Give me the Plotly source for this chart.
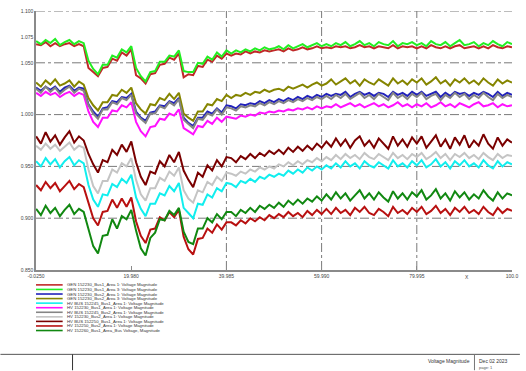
import plotly.graph_objects as go

# ---------------- data ----------------
time_s = list(range(0, 101))  # sample times, seconds

names = [
    "GEN 152230_Bus1_Area 1: Voltage Magnitude",
    "GEN 152230_Bus1_Area 3: Voltage Magnitude",
    "GEN 152230_Bus2_Area 1: Voltage Magnitude",
    "GEN 152230_Bus2_Area 3: Voltage Magnitude",
    "HV BUS 152245_Bus1_Area 1: Voltage Magnitude",
    "HV 152230_Bus1_Area 1: Voltage Magnitude",
    "HV BUS 152245_Bus2_Area 1: Voltage Magnitude",
    "HV 152230_Bus2_Area 1: Voltage Magnitude",
    "HV BUS 152250_Bus1_Area 1: Voltage Magnitude",
    "HV 152250_Bus2_Area 1: Voltage Magnitude",
    "HV 152260_Bus1_Area_Bus Voltage, Magnitude",
]
colors = ["#c02828", "#22ee22", "#2222bb", "#858500", "#11eeee", "#ff11ff",
          "#858585", "#c4c4c4", "#7a0000", "#b81010", "#118811"]

red_gen1 = [1.068, 1.067, 1.070, 1.066, 1.069, 1.066, 1.068, 1.069, 1.066, 1.068, 1.066,
            1.045, 1.041, 1.037, 1.045, 1.046, 1.054, 1.052, 1.060, 1.057, 1.063,
            1.038, 1.035, 1.030, 1.039, 1.040, 1.048, 1.049, 1.055, 1.053, 1.059,
            1.036, 1.039, 1.038, 1.047, 1.046, 1.053, 1.051, 1.057, 1.054, 1.059,
            1.057, 1.059, 1.058, 1.061, 1.059, 1.061, 1.060, 1.062, 1.061, 1.062,
            1.063, 1.061, 1.064, 1.062, 1.063, 1.065, 1.063, 1.064, 1.066, 1.064,
            1.065, 1.064, 1.066, 1.065, 1.066, 1.064, 1.065, 1.067, 1.065, 1.066,
            1.064, 1.066, 1.065, 1.064, 1.067, 1.064, 1.066, 1.065, 1.066, 1.064,
            1.066, 1.064, 1.067, 1.065, 1.064, 1.066, 1.064, 1.066, 1.067, 1.064,
            1.065, 1.066, 1.064, 1.066, 1.064, 1.067, 1.065, 1.064, 1.066, 1.065]
green_gen1 = [1.071, 1.068, 1.072, 1.069, 1.073, 1.067, 1.070, 1.072, 1.068, 1.071, 1.069,
              1.052, 1.044, 1.039, 1.048, 1.048, 1.057, 1.055, 1.063, 1.060, 1.066,
              1.045, 1.037, 1.032, 1.041, 1.042, 1.051, 1.051, 1.057, 1.056, 1.062,
              1.042, 1.041, 1.041, 1.050, 1.049, 1.056, 1.053, 1.060, 1.056, 1.062,
              1.059, 1.062, 1.060, 1.063, 1.061, 1.064, 1.062, 1.065, 1.063, 1.064,
              1.066, 1.063, 1.067, 1.064, 1.066, 1.068, 1.065, 1.067, 1.069, 1.066,
              1.068, 1.066, 1.069, 1.067, 1.070, 1.066, 1.068, 1.071, 1.067, 1.069,
              1.066, 1.070, 1.068, 1.067, 1.071, 1.066, 1.069, 1.068, 1.070, 1.067,
              1.069, 1.066, 1.071, 1.068, 1.067, 1.070, 1.066, 1.069, 1.072, 1.067,
              1.068, 1.070, 1.066, 1.069, 1.067, 1.071, 1.068, 1.066, 1.070, 1.068]
blue_gen2 = [1.026, 1.023, 1.027, 1.024, 1.027, 1.022, 1.026, 1.028, 1.023, 1.026, 1.025,
             1.010, 1.003, 0.998, 1.006, 1.007, 1.013, 1.012, 1.017, 1.016, 1.020,
             1.003, 0.997, 0.994, 1.002, 1.003, 1.009, 1.008, 1.013, 1.011, 1.016,
             0.997, 0.992, 0.989, 0.997, 0.997, 1.003, 1.001, 1.006, 1.002, 1.009,
             1.008, 1.006, 1.010, 1.009, 1.011, 1.010, 1.013, 1.011, 1.014, 1.012,
             1.015, 1.013, 1.016, 1.014, 1.017, 1.015, 1.018, 1.016, 1.019, 1.017,
             1.020, 1.018, 1.020, 1.019, 1.022, 1.017, 1.020, 1.022, 1.019, 1.021,
             1.018, 1.021, 1.020, 1.017, 1.022, 1.019, 1.021, 1.018, 1.022, 1.019,
             1.022, 1.018, 1.020, 1.022, 1.017, 1.021, 1.018, 1.022, 1.020, 1.021,
             1.018, 1.021, 1.019, 1.022, 1.020, 1.017, 1.022, 1.018, 1.021, 1.019]
olive_gen2 = [1.031, 1.027, 1.033, 1.029, 1.034, 1.028, 1.030, 1.033, 1.027, 1.032, 1.029,
              1.016, 1.009, 1.004, 1.012, 1.012, 1.019, 1.018, 1.024, 1.021, 1.026,
              1.011, 1.005, 1.001, 1.010, 1.009, 1.016, 1.014, 1.020, 1.015, 1.021,
              1.001, 0.997, 0.994, 1.003, 1.003, 1.010, 1.009, 1.015, 1.013, 1.019,
              1.016, 1.019, 1.018, 1.021, 1.019, 1.022, 1.021, 1.024, 1.022, 1.024,
              1.025, 1.023, 1.027, 1.025, 1.027, 1.029, 1.026, 1.029, 1.031, 1.028,
              1.030, 1.034, 1.029, 1.032, 1.035, 1.030, 1.033, 1.028, 1.034, 1.031,
              1.029, 1.034, 1.031, 1.028, 1.035, 1.030, 1.033, 1.029, 1.034, 1.031,
              1.035, 1.029, 1.032, 1.036, 1.030, 1.033, 1.028, 1.034, 1.031, 1.035,
              1.030, 1.033, 1.029, 1.035, 1.031, 1.028, 1.034, 1.030, 1.033, 1.031]
cyan_hv1 = [0.955, 0.950, 0.958, 0.952, 0.957, 0.949, 0.955, 0.959, 0.951, 0.956, 0.953,
            0.932, 0.918, 0.911, 0.923, 0.922, 0.933, 0.930, 0.938, 0.934, 0.942,
            0.920, 0.909, 0.902, 0.914, 0.914, 0.924, 0.922, 0.931, 0.926, 0.934,
            0.910, 0.905, 0.900, 0.914, 0.913, 0.923, 0.920, 0.929, 0.926, 0.934,
            0.933, 0.930, 0.936, 0.934, 0.938, 0.935, 0.940, 0.938, 0.942, 0.940,
            0.943, 0.941, 0.946, 0.943, 0.947, 0.944, 0.949, 0.946, 0.950, 0.947,
            0.951, 0.948, 0.953, 0.949, 0.955, 0.950, 0.953, 0.948, 0.955, 0.951,
            0.949, 0.954, 0.951, 0.948, 0.956, 0.950, 0.953, 0.949, 0.955, 0.951,
            0.956, 0.949, 0.952, 0.957, 0.950, 0.954, 0.948, 0.955, 0.951, 0.956,
            0.950, 0.953, 0.949, 0.956, 0.951, 0.948, 0.955, 0.950, 0.954, 0.952]
magenta_hv1 = [1.021, 1.018, 1.022, 1.019, 1.021, 1.017, 1.020, 1.022, 1.018, 1.021, 1.019,
               1.003, 0.993, 0.988, 0.997, 0.997, 1.004, 1.003, 1.009, 1.007, 1.012,
               0.993, 0.984, 0.979, 0.988, 0.989, 0.996, 0.995, 1.001, 0.999, 1.005,
               0.987, 0.984, 0.981, 0.989, 0.988, 0.994, 0.991, 0.997, 0.993, 0.998,
               0.997, 0.996, 0.999, 0.998, 1.000, 0.999, 1.002, 1.001, 1.003, 1.002,
               1.004, 1.003, 1.005, 1.004, 1.006, 1.005, 1.007, 1.005, 1.008, 1.006,
               1.008, 1.007, 1.010, 1.007, 1.009, 1.011, 1.008, 1.010, 1.007, 1.009,
               1.011, 1.008, 1.010, 1.007, 1.009, 1.012, 1.008, 1.010, 1.007, 1.010,
               1.008, 1.011, 1.007, 1.009, 1.012, 1.008, 1.010, 1.007, 1.011, 1.009,
               1.007, 1.010, 1.012, 1.008, 1.009, 1.011, 1.007, 1.010, 1.008, 1.009]
grey_hv2 = [1.025, 1.021, 1.027, 1.022, 1.026, 1.020, 1.024, 1.027, 1.021, 1.025, 1.023,
            1.009, 1.001, 0.996, 1.005, 1.005, 1.012, 1.010, 1.016, 1.014, 1.019,
            1.001, 0.996, 0.992, 1.001, 1.001, 1.008, 1.006, 1.012, 1.009, 1.015,
            0.995, 0.991, 0.987, 0.996, 0.995, 1.001, 0.999, 1.005, 1.000, 1.007,
            1.006, 1.004, 1.008, 1.007, 1.009, 1.008, 1.011, 1.009, 1.012, 1.010,
            1.013, 1.011, 1.014, 1.012, 1.015, 1.013, 1.016, 1.014, 1.017, 1.015,
            1.018, 1.015, 1.019, 1.016, 1.020, 1.015, 1.018, 1.021, 1.016, 1.019,
            1.015, 1.020, 1.017, 1.014, 1.021, 1.016, 1.019, 1.015, 1.020, 1.017,
            1.021, 1.015, 1.018, 1.020, 1.014, 1.019, 1.016, 1.021, 1.017, 1.020,
            1.015, 1.019, 1.016, 1.021, 1.017, 1.014, 1.020, 1.016, 1.019, 1.017]
silver_hv2 = [0.970, 0.966, 0.972, 0.967, 0.971, 0.965, 0.969, 0.973, 0.966, 0.970, 0.968,
              0.947, 0.931, 0.924, 0.936, 0.936, 0.947, 0.944, 0.953, 0.950, 0.958,
              0.937, 0.923, 0.917, 0.929, 0.929, 0.939, 0.936, 0.945, 0.941, 0.949,
              0.927, 0.919, 0.915, 0.927, 0.925, 0.935, 0.932, 0.940, 0.936, 0.944,
              0.943, 0.941, 0.945, 0.943, 0.947, 0.945, 0.949, 0.947, 0.950, 0.948,
              0.952, 0.950, 0.954, 0.951, 0.955, 0.952, 0.956, 0.954, 0.958, 0.955,
              0.959, 0.956, 0.961, 0.957, 0.962, 0.958, 0.961, 0.957, 0.963, 0.959,
              0.957, 0.962, 0.959, 0.956, 0.963, 0.958, 0.961, 0.957, 0.962, 0.959,
              0.963, 0.957, 0.960, 0.964, 0.958, 0.962, 0.956, 0.962, 0.959, 0.963,
              0.958, 0.961, 0.957, 0.963, 0.959, 0.956, 0.962, 0.958, 0.961, 0.960]
maroon_hv3 = [0.979, 0.972, 0.983, 0.974, 0.980, 0.971, 0.978, 0.984, 0.973, 0.979, 0.975,
              0.962, 0.952, 0.944, 0.956, 0.954, 0.966, 0.961, 0.971, 0.964, 0.974,
              0.954, 0.940, 0.932, 0.945, 0.943, 0.955, 0.950, 0.961, 0.954, 0.964,
              0.946, 0.937, 0.930, 0.944, 0.940, 0.951, 0.946, 0.956, 0.950, 0.959,
              0.958, 0.954, 0.960, 0.957, 0.962, 0.958, 0.963, 0.960, 0.965, 0.962,
              0.966, 0.962, 0.968, 0.964, 0.969, 0.965, 0.970, 0.966, 0.972, 0.968,
              0.974, 0.969, 0.977, 0.970, 0.976, 0.968, 0.975, 0.979, 0.970, 0.975,
              0.968, 0.977, 0.972, 0.967, 0.979, 0.970, 0.976, 0.969, 0.978, 0.972,
              0.979, 0.968, 0.974, 0.980, 0.969, 0.976, 0.967, 0.978, 0.971, 0.980,
              0.968, 0.975, 0.970, 0.981, 0.972, 0.967, 0.978, 0.970, 0.976, 0.973]
red_hv3 = [0.932, 0.927, 0.935, 0.929, 0.934, 0.926, 0.931, 0.936, 0.928, 0.933, 0.930,
           0.914, 0.900, 0.893, 0.906, 0.907, 0.918, 0.910, 0.919, 0.911, 0.920,
           0.897, 0.883, 0.876, 0.889, 0.890, 0.901, 0.898, 0.906, 0.901, 0.908,
           0.882, 0.870, 0.865, 0.880, 0.881, 0.890, 0.886, 0.894, 0.889, 0.896,
           0.896, 0.893, 0.898, 0.895, 0.900, 0.897, 0.901, 0.898, 0.903, 0.900,
           0.904, 0.901, 0.906, 0.902, 0.905, 0.901, 0.907, 0.903, 0.908, 0.904,
           0.909, 0.904, 0.910, 0.905, 0.908, 0.903, 0.910, 0.906, 0.911, 0.905,
           0.903, 0.909, 0.906, 0.902, 0.911, 0.905, 0.908, 0.904, 0.910, 0.906,
           0.911, 0.904, 0.907, 0.912, 0.905, 0.909, 0.903, 0.910, 0.906, 0.911,
           0.905, 0.908, 0.904, 0.911, 0.906, 0.903, 0.910, 0.905, 0.909, 0.907]
green_hv4 = [0.909, 0.903, 0.912, 0.905, 0.910, 0.902, 0.908, 0.913, 0.904, 0.909, 0.906,
             0.890, 0.873, 0.866, 0.883, 0.884, 0.899, 0.890, 0.902, 0.899, 0.908,
             0.888, 0.871, 0.864, 0.881, 0.886, 0.899, 0.898, 0.907, 0.903, 0.910,
             0.887, 0.877, 0.875, 0.890, 0.890, 0.900, 0.896, 0.904, 0.899, 0.906,
             0.906, 0.902, 0.908, 0.905, 0.910, 0.906, 0.912, 0.909, 0.913, 0.910,
             0.915, 0.911, 0.917, 0.913, 0.918, 0.914, 0.919, 0.916, 0.921, 0.917,
             0.923, 0.918, 0.925, 0.919, 0.924, 0.917, 0.922, 0.927, 0.919, 0.924,
             0.918, 0.925, 0.920, 0.916, 0.926, 0.919, 0.924, 0.918, 0.925, 0.921,
             0.927, 0.918, 0.922, 0.928, 0.919, 0.924, 0.917, 0.926, 0.920, 0.925,
             0.918, 0.923, 0.919, 0.927, 0.921, 0.917, 0.925, 0.919, 0.924, 0.922]

series = [red_gen1, green_gen1, blue_gen2, olive_gen2, cyan_hv1, magenta_hv1,
          grey_hv2, silver_hv2, maroon_hv3, red_hv3, green_hv4]

x_range = [-0.025, 100.0]
y_range = [0.85, 1.10]
x_tickvals = [-0.025, 19.98, 39.985, 59.99, 79.995, 100.0]
x_ticktext = ["-0.0250", "19.980", "39.985", "59.990", "79.995", "100.0"]
y_tickvals = [0.85, 0.90, 0.95, 1.00, 1.05, 1.075, 1.10]
y_ticktext = ["0.850", "0.900", "0.950", "1.000", "1.050", "1.075", "1.100"]
y_grid = [0.90, 0.95, 1.00, 1.05, 1.10]
x_grid = [39.985, 59.99, 79.995]

footer_title = "Voltage Magnitude"
footer_date = "Dec 02 2023"
footer_page = "page: 1"

# ---------------- layout helpers ----------------
W, H = 526, 371
ML, MR, MT, MB = 36, 8, 9, 101
PW, PH = W - ML - MR, H - MT - MB


def px2x(px):
    return (px - ML) / PW


def py2y(py):
    return (H - MB - py) / PH


FONT = "Liberation Sans, Arial, sans-serif"
GRID_COL = "#7a7a7a"

fig = go.Figure()
for name, color, vals in zip(names, colors, series):
    fig.add_trace(go.Scatter(x=time_s, y=vals, mode="lines", name=name,
                             line=dict(color=color, width=2.0), showlegend=False))

shapes = []
for yv in y_grid:
    shapes.append(dict(type="line", xref="paper", yref="y", x0=0, x1=1, y0=yv, y1=yv,
                       line=dict(color=GRID_COL, width=1, dash="dashdot"), layer="below"))
for xv in x_grid:
    shapes.append(dict(type="line", xref="x", yref="paper", x0=xv, x1=xv, y0=0, y1=1,
                       line=dict(color=GRID_COL, width=1, dash="dashdot"), layer="below"))

annotations = []
# manual legend
for i, (name, color) in enumerate(zip(names, colors)):
    yy = py2y(285 + i * 4.6)
    shapes.append(dict(type="line", xref="paper", yref="paper", x0=px2x(36), x1=px2x(63),
                       y0=yy, y1=yy, line=dict(color=color, width=1.6)))
    annotations.append(dict(xref="paper", yref="paper", x=px2x(65), y=yy, text=name,
                            showarrow=False, xanchor="left", yanchor="middle",
                            font=dict(family=FONT, size=4.3, color="#333")))

# footer frame
shapes.append(dict(type="line", xref="paper", yref="paper", x0=px2x(0), x1=px2x(W),
                   y0=py2y(355), y1=py2y(355), line=dict(color="#555", width=1)))
shapes.append(dict(type="line", xref="paper", yref="paper", x0=px2x(73), x1=px2x(73),
                   y0=py2y(355), y1=py2y(H), line=dict(color="#333", width=1)))
shapes.append(dict(type="line", xref="paper", yref="paper", x0=px2x(480), x1=px2x(480),
                   y0=py2y(355), y1=py2y(H), line=dict(color="#777", width=1)))
annotations.append(dict(xref="paper", yref="paper", x=px2x(477), y=py2y(361.5), text=footer_title,
                        showarrow=False, xanchor="right", yanchor="middle",
                        font=dict(family=FONT, size=5, color="#333")))
annotations.append(dict(xref="paper", yref="paper", x=px2x(483), y=py2y(361.5), text=footer_date,
                        showarrow=False, xanchor="left", yanchor="middle",
                        font=dict(family=FONT, size=5, color="#333")))
annotations.append(dict(xref="paper", yref="paper", x=px2x(483), y=py2y(368), text=footer_page,
                        showarrow=False, xanchor="left", yanchor="middle",
                        font=dict(family=FONT, size=4, color="#555")))
annotations.append(dict(xref="paper", yref="paper", x=px2x(472), y=py2y(277), text="X",
                        showarrow=False, xanchor="center", yanchor="middle",
                        font=dict(family=FONT, size=5, color="#444")))

fig.update_layout(
    width=W, height=H,
    margin=dict(l=ML, r=MR, t=MT, b=MB, pad=0),
    paper_bgcolor="white", plot_bgcolor="white",
    font=dict(family=FONT, size=5, color="#444"),
    shapes=shapes, annotations=annotations,
    xaxis=dict(range=x_range, tickvals=x_tickvals, ticktext=x_ticktext, showgrid=False,
               zeroline=False, showline=True, linecolor="#8a8a8a", linewidth=1.5,
               ticks="inside", ticklen=4, tickcolor="#8a8a8a", tickwidth=1,
               tickfont=dict(family=FONT, size=5, color="#444")),
    yaxis=dict(range=y_range, tickvals=y_tickvals, ticktext=y_ticktext, showgrid=False,
               zeroline=False, showline=True, linecolor="#8a8a8a", linewidth=1.5,
               ticks="", tickfont=dict(family=FONT, size=5, color="#444")),
)

fig.write_html("out.html")
